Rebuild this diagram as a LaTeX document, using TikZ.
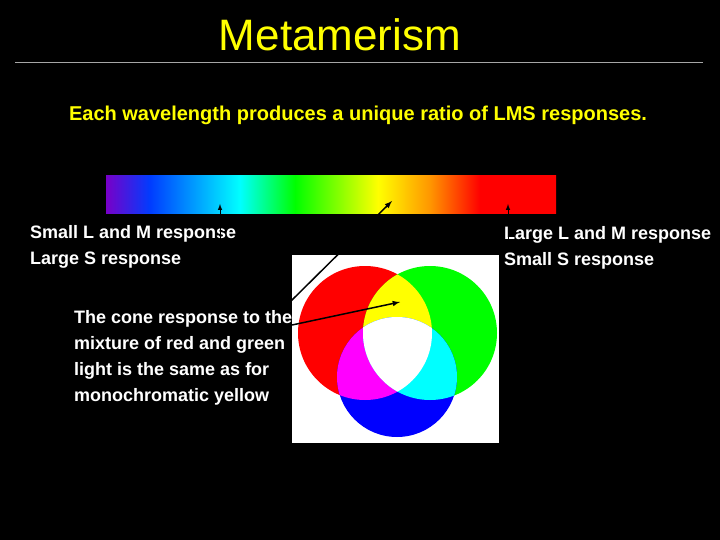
\documentclass[tikz,border=0pt]{standalone}
\usepackage{fontspec}
\setmainfont{Liberation Sans}
\definecolor{cY}{RGB}{255,255,0}
\definecolor{cR}{RGB}{255,0,0}
\definecolor{cG}{RGB}{0,255,0}
\definecolor{cB}{RGB}{0,0,255}
\definecolor{cM}{RGB}{255,0,255}
\definecolor{cC}{RGB}{0,255,255}
\begin{document}
\begin{tikzpicture}[x=1pt,y=-1pt,
  lbl/.style={text=white,font=\bfseries\fontsize{18}{26}\selectfont,align=left,anchor=north west,inner sep=0pt},
  arr/.style={-latex,line width=1.5pt,black}]
\fill[black] (0,0) rectangle (720,540);
\useasboundingbox (0,0) rectangle (720,540);
\node[text=cY,font=\fontsize{44}{50}\selectfont] (title) at (340,35) {Metamerism};
\draw[gray!70,line width=0.6pt] (15,62) -- (703,62);
\node[text=cY,font=\bfseries\fontsize{20}{24}\selectfont] (sub) at (358,115) {Each wavelength produces a unique ratio of LMS responses.};
% spectrum
\begin{scope}
\clip (106,176) rectangle (556,214);
\fill[cR] (100,170) rectangle (560,220);
\shade[left color={rgb,255:red,120;green,0;blue,200},right color={rgb,255:red,0;green,60;blue,255}] (106,170) rectangle (150,220);
\shade[left color={rgb,255:red,0;green,60;blue,255},right color=cC] (150,170) rectangle (240,220);
\shade[left color=cC,right color=cG] (240,170) rectangle (295,220);
\shade[left color=cG,right color=cY] (295,170) rectangle (378,220);
\shade[left color=cY,right color={rgb,255:red,255;green,150;blue,0}] (378,170) rectangle (430,220);
\shade[left color={rgb,255:red,255;green,150;blue,0},right color=cR] (430,170) rectangle (480,220);
\end{scope}
% circles image
\fill[white] (292,255) rectangle (499,443);
\coordinate (R) at (365,333); \coordinate (G) at (430,333); \coordinate (B) at (397,377);
\def\rr{67}\def\rb{60}
\fill[cR] (R) circle[radius=\rr];
\fill[cG] (G) circle[radius=\rr];
\fill[cB] (B) circle[radius=\rb];
\begin{scope}\clip (R) circle[radius=\rr]; \fill[cY] (G) circle[radius=\rr]; \fill[cM] (B) circle[radius=\rb];\end{scope}
\begin{scope}\clip (G) circle[radius=\rr]; \fill[cC] (B) circle[radius=\rb];\end{scope}
\begin{scope}\clip (R) circle[radius=\rr]; \clip (G) circle[radius=\rr]; \fill[white] (B) circle[radius=\rb];\end{scope}
% labels
\node[lbl] (left) at (30,225) {Small L and M response\\Large S response};
\node[lbl] (right) at (504,226) {Large L and M response\\Small S response};
\node[lbl] (mix) at (74,310) {The cone response to the\\mixture of red and green\\light is the same as for\\monochromatic yellow};
\coordinate (a1s) at (220,240); \coordinate (a1e) at (220,204);
\coordinate (a2s) at (508,240); \coordinate (a2e) at (508,204);
\draw[-latex,line width=1pt] (a1s) -- (a1e);
\draw[-latex,line width=1pt] (a2s) -- (a2e);
\coordinate (p1) at (290,302); \coordinate (y1) at (392,201);
\coordinate (p2) at (292,325); \coordinate (y2) at (400,302);
\draw[arr] (p1) -- (y1);
\draw[arr] (p2) -- (y2);
\end{tikzpicture}
\end{document}
